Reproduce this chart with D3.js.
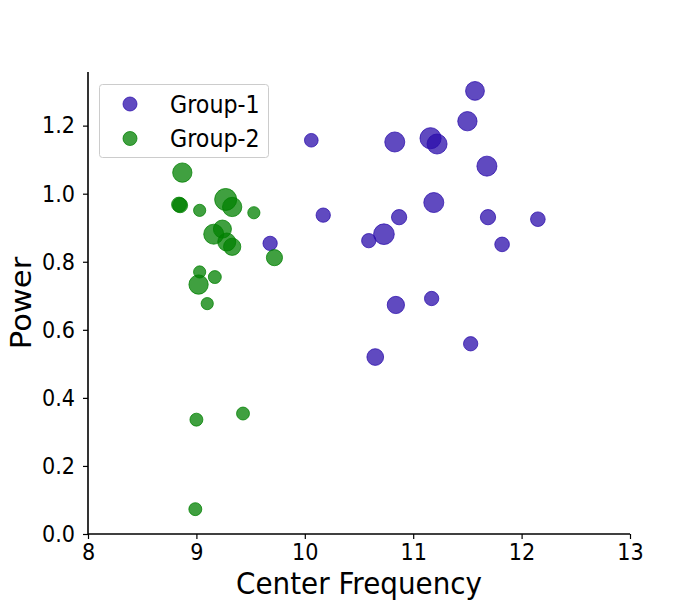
<!DOCTYPE html>
<html>
<head>
<meta charset="utf-8">
<script src="https://cdn.jsdelivr.net/npm/d3@7"></script>
<style>
  html, body { margin: 0; padding: 0; background: #fff; }
  svg { display: block; font-family: "DejaVu Sans", sans-serif; }
</style>
</head>
<body>
<svg id="chart" width="700" height="600"></svg>
<script>
// ---- data ----
const seriesNames = ["Group-1", "Group-2"];

const group1Freq  = [11.57, 11.50, 10.06, 10.83, 11.16, 11.22, 11.68, 10.17, 11.19, 10.87,
                     10.73, 10.59, 9.68, 10.84, 11.17, 11.69, 12.15, 11.82, 10.65, 11.53];
const group1Power = [1.302, 1.213, 1.157, 1.152, 1.163, 1.146, 1.081, 0.937, 0.974, 0.931,
                     0.881, 0.862, 0.854, 0.673, 0.692, 0.931, 0.925, 0.851, 0.520, 0.559];
const group1Size  = [190, 200, 100, 215, 240, 215, 215, 110, 215, 125,
                     230, 110, 110, 160, 110, 125, 115, 115, 150, 110];

const group2Freq  = [8.87, 8.84, 8.85, 9.03, 9.27, 9.33, 9.53, 9.16, 9.24, 9.28,
                     9.33, 9.72, 9.03, 9.17, 9.02, 9.10, 9.00, 9.43, 8.99];
const group2Power = [1.062, 0.968, 0.966, 0.951, 0.983, 0.961, 0.944, 0.881, 0.896, 0.858,
                     0.844, 0.812, 0.770, 0.755, 0.733, 0.677, 0.336, 0.354, 0.073];
const group2Size  = [200, 120, 120, 80, 260, 200, 80, 215, 175, 175,
                     160, 140, 80, 90, 200, 80, 90, 90, 90];

const xTicks = [8, 9, 10, 11, 12, 13];
const yTicks = [0.0, 0.2, 0.4, 0.6, 0.8, 1.0, 1.2];
const xLabel = "Center Frequency";
const yLabel = "Power";

// ---- layout ----
const svg = d3.select("#chart");
const margin = { left: 88, right: 630, top: 72, bottom: 534 };
const colors = ["rgb(43,13,171)", "rgb(0,128,0)"];
const alpha = 0.75;
const stretch = 1.1;

const x = d3.scaleLinear().domain([8, 13]).range([margin.left, margin.right]);
const y = d3.scaleLinear().domain([0, 1.3576]).range([margin.bottom, margin.top]);
const r = d3.scaleSqrt().domain([0, 260]).range([0, 11]);

const groups = [
  group1Freq.map((f, i) => ({ f, p: group1Power[i], s: group1Size[i] })),
  group2Freq.map((f, i) => ({ f, p: group2Power[i], s: group2Size[i] }))
];

groups.forEach((pts, gi) => {
  svg.append("g").selectAll("circle").data(pts).join("circle")
    .attr("cx", d => x(d.f))
    .attr("cy", d => y(d.p))
    .attr("r", d => r(d.s))
    .attr("fill", colors[gi])
    .attr("fill-opacity", alpha)
    .attr("stroke", colors[gi])
    .attr("stroke-opacity", alpha)
    .attr("stroke-width", 1);
});

// ---- axes ----
const xAxis = d3.axisBottom(x).tickValues(xTicks).tickFormat(d3.format("d"))
  .tickSize(5).tickPadding(4);
const yAxis = d3.axisLeft(y).tickValues(yTicks).tickFormat(d3.format(".1f"))
  .tickSize(5).tickPadding(8);

const gx = svg.append("g").attr("transform", `translate(0,${margin.bottom})`).call(xAxis);
const gy = svg.append("g").attr("transform", `translate(${margin.left},0)`).call(yAxis);
[gx, gy].forEach(g => {
  g.select(".domain").attr("stroke", "#000").attr("stroke-width", 1.6);
  g.selectAll(".tick line").attr("stroke", "#000").attr("stroke-width", 1.2);
  g.selectAll(".tick text").attr("fill", "#000")
    .style("font-family", "DejaVu Sans").style("font-size", "20.8px")
    .attr("transform", `scale(1,${stretch})`);
});
gx.select(".domain").attr("d", `M${margin.left},0H${margin.right}`);
gy.select(".domain").attr("d", `M0,${margin.bottom}V${margin.top}`);

svg.append("text")
  .attr("transform", `translate(${(margin.left + margin.right) / 2},594) scale(1,${stretch})`)
  .attr("text-anchor", "middle")
  .style("font-size", "27.8px").attr("fill", "#000")
  .text(xLabel);

svg.append("text")
  .attr("transform", `translate(31,${(margin.top + margin.bottom) / 2}) rotate(-90) scale(${stretch},1)`)
  .attr("text-anchor", "middle")
  .style("font-size", "27.8px").attr("fill", "#000")
  .text(yLabel);

// ---- legend ----
const lg = svg.append("g");
lg.append("rect")
  .attr("x", 99.5).attr("y", 84.5).attr("width", 169).attr("height", 73)
  .attr("rx", 3).attr("fill", "#fff").attr("fill-opacity", 0.8)
  .attr("stroke", "#cccccc").attr("stroke-width", 1);
seriesNames.forEach((name, i) => {
  const cy = 104 + i * 34.5;
  lg.append("circle").attr("cx", 130).attr("cy", cy).attr("r", 7)
    .attr("fill", colors[i]).attr("fill-opacity", alpha)
    .attr("stroke", colors[i]).attr("stroke-opacity", alpha).attr("stroke-width", 1);
  lg.append("text")
    .attr("transform", `translate(170,${cy}) scale(1,${stretch})`)
    .attr("dy", "0.36em")
    .style("font-size", "22.2px").attr("fill", "#000").text(name);
});
</script>
</body>
</html>
